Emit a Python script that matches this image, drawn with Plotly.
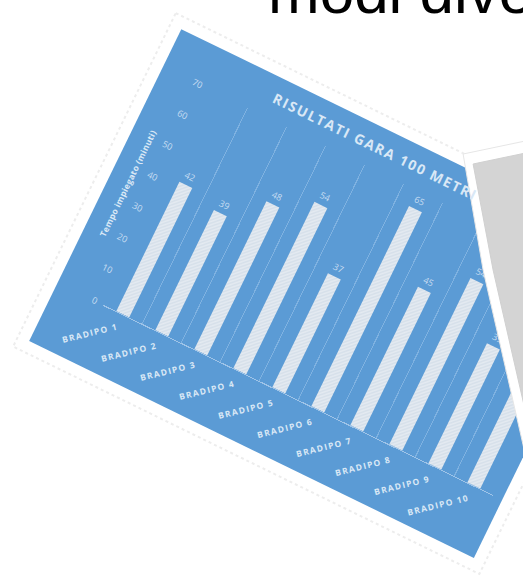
import plotly.graph_objects as go

# ---------------- data ----------------
categories = ["BRADIPO 1", "BRADIPO 2", "BRADIPO 3", "BRADIPO 4", "BRADIPO 5",
              "BRADIPO 6", "BRADIPO 7", "BRADIPO 8", "BRADIPO 9", "BRADIPO 10"]
tempi = [42, 39, 48, 54, 37, 65, 45, 54, 39, 32]
y_ticks = [0, 10, 20, 30, 40, 50, 60, 70]
chart_title = "RISULTATI GARA 100 METRI"
y_title = "Tempo impiegato (minuti)"
heading = "modi diversi"

# ---------------- layout geometry (unrotated card frame) ----------------
W, H = 523, 587
CX0, CY0 = 14, 120            # card top-left before rotation
CARD_W, CARD_H = 495, 347
L = CX0 + 50.7
R = CX0 + 484.9
T = CY0 + 42
B = CY0 + 282
PW, PH = R - L, B - T


def px(x):
    return (x - L) / PW


def py(y):
    return 1 - (y - T) / PH


BLUE = "#5b9bd5"
LIGHT = "#d9e8f6"

fig = go.Figure()
fig.add_trace(go.Bar(
    x=categories, y=tempi,
    text=[str(v) for v in tempi], textposition="outside",
    outsidetextfont=dict(color="#c8ddf2", size=9, family="Open Sans"),
    cliponaxis=False,
    width=0.33,
    marker=dict(color="#dde5ee", line=dict(width=0),
                pattern=dict(shape="/", fgcolor="#f4f6f9", bgcolor="#d6e0ea",
                             size=3, solidity=0.45)),
))

shapes = []
# faint photo frame around the card
shapes.append(dict(type="rect", xref="paper", yref="paper", layer="below",
                   x0=px(CX0 - 12), x1=px(CX0 + CARD_W + 12),
                   y0=py(CY0 - 12), y1=py(CY0 + CARD_H + 12),
                   line=dict(color="#ededed", width=2, dash="dot"),
                   fillcolor="rgba(0,0,0,0)"))
# blue card
shapes.append(dict(type="rect", xref="paper", yref="paper", layer="below",
                   x0=px(CX0), x1=px(CX0 + CARD_W),
                   y0=py(CY0), y1=py(CY0 + CARD_H),
                   line=dict(width=0), fillcolor=BLUE))


# grey overlapping panel (not rotated with the chart)
def poly(pts):
    s = "M " + " L ".join(f"{px(x):.5f},{py(y):.5f}" for x, y in pts) + " Z"
    return s


outer = [(463, 154), (640, 117), (640, 640), (565, 640), (523, 445), (483, 270)]
inner = [(473, 164), (640, 129), (640, 640), (575, 640), (533, 445), (493, 270)]
shapes.append(dict(type="path", xref="paper", yref="paper", layer="above",
                   path=poly(outer), fillcolor="#ffffff",
                   line=dict(color="#e6e6e6", width=1)))
shapes.append(dict(type="path", xref="paper", yref="paper", layer="above",
                   path=poly(inner), fillcolor="#d4d4d4",
                   line=dict(color="#d0d0d0", width=1)))

fig.update_layout(
    width=W, height=H,
    margin=dict(l=L, r=W - R, t=T, b=H - B, pad=0, autoexpand=False),
    paper_bgcolor="white", plot_bgcolor="rgba(0,0,0,0)",
    showlegend=False,
    bargap=0.67,
    shapes=shapes,
    title=dict(text=chart_title, x=(CX0 + 226 - L) / PW, xref="paper", xanchor="center",
               y=1 - (CY0 + 21) / H, yref="container", yanchor="middle",
               font=dict(family="Open Sans", size=14, color=LIGHT, weight="bold")),
    xaxis=dict(tickson="boundaries", showgrid=True, gridcolor="#7fb2e1", gridwidth=1,
               showline=True, linecolor="#9fc4e8", linewidth=1, ticks="",
               tickangle=-40, automargin=False, ticklabelstandoff=5,
               tickfont=dict(family="Open Sans", size=8.5, color=LIGHT, weight="bold")),
    yaxis=dict(range=[0, 70], tickvals=y_ticks, showgrid=False, zeroline=False,
               showline=False, ticks="", automargin=False, ticklabelstandoff=6,
               tickfont=dict(family="Open Sans", size=9, color="#c8ddf2"),
               title=dict(text=y_title, standoff=8,
                          font=dict(family="Open Sans", size=8.5, color=LIGHT, weight="bold"))),
    annotations=[dict(text=heading, xref="paper", yref="paper", x=px(266), y=py(28),
                      xanchor="left", yanchor="bottom", showarrow=False,
                      font=dict(family="Liberation Sans", size=62, color="#000000"))],
)

post = """
var gd = document.getElementById('{plot_id}');
document.body.style.margin = '0';
document.body.style.overflow = 'hidden';
var TR = 'translate(181,29) rotate(26) translate(-14,-120)';
var NS = 'http://www.w3.org/2000/svg';
function wrap(el){
  if(!el) return;
  var g = document.createElementNS(NS, 'g');
  g.setAttribute('transform', TR);
  el.parentNode.insertBefore(g, el);
  g.appendChild(el);
}
gd.querySelectorAll('.xtick text').forEach(function(t){ t.style.letterSpacing = '1.3px'; });
gd.querySelectorAll('.g-gtitle text').forEach(function(t){ t.style.letterSpacing = '1.6px'; });
gd.querySelectorAll('.g-ytitle text').forEach(function(t){ t.style.letterSpacing = '0.3px'; });
var svg0 = gd.querySelector('svg.main-svg');
['.bglayer', '.layer-below', '.cartesianlayer'].forEach(function(s){ wrap(svg0.querySelector(s)); });
wrap(gd.querySelector('.g-gtitle'));
wrap(gd.querySelector('.g-ytitle'));
"""

fig.write_html("out.html", post_script=post)
